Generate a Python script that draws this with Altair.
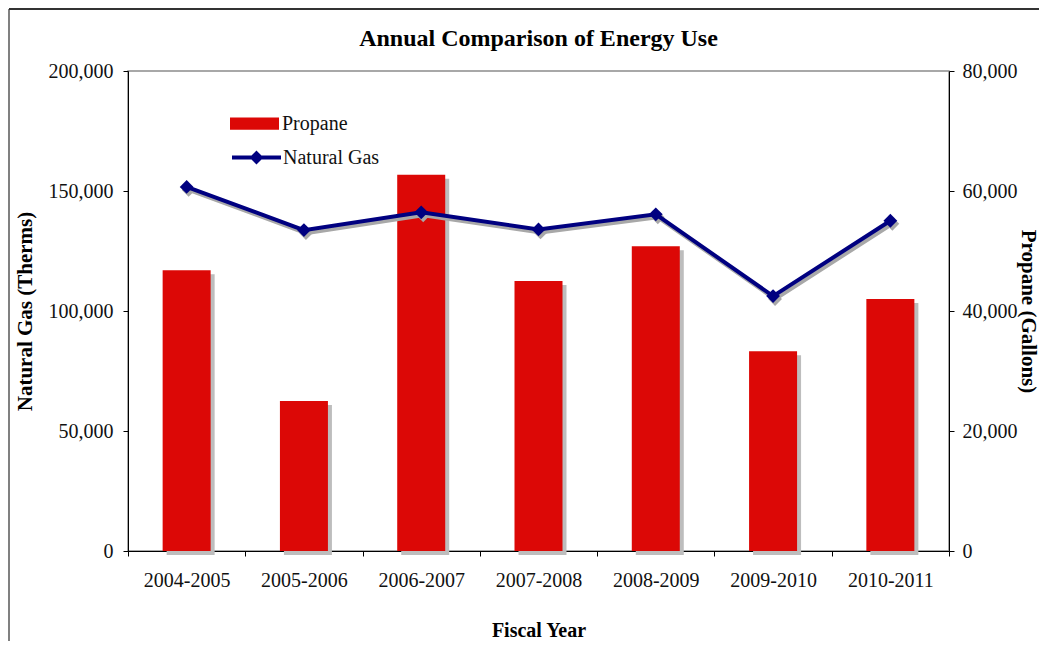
import altair as alt
import pandas as pd

years = ["2004-2005", "2005-2006", "2006-2007", "2007-2008", "2008-2009", "2009-2010", "2010-2011"]
propane_gallons = [46800, 25000, 62700, 45000, 50800, 33300, 42000]
natural_gas_therms = [151700, 133700, 141100, 134000, 140300, 106200, 137600]
gas_ticks = [0, 50000, 100000, 150000, 200000]
propane_ticks = [0, 20000, 40000, 60000, 80000]

RED = "#DC0806"
NAVY = "#000080"
SHADOW = "#BDBDBD"
FONT = "Liberation Serif"

df = pd.DataFrame({"year": years, "propane": propane_gallons, "gas": natural_gas_therms})

x_enc = alt.X(
    "year:N",
    sort=years,
    scale=alt.Scale(paddingInner=0, paddingOuter=0),
    axis=alt.Axis(
        title="Fiscal Year",
        labelAngle=0,
        tickBand="extent",
        tickSize=5,
        labelPadding=14,
        titlePadding=30,
        labelFontSize=20,
        titleFontSize=20,
        titleFontWeight="bold",
        domainColor="#000000",
        tickColor="#000000",
        labelColor="#111111",
        titleColor="#000000",
    ),
)

y_prop_scale = alt.Scale(domain=[0, 80000], nice=False, zero=True)
y_gas_scale = alt.Scale(domain=[0, 200000], nice=False, zero=True)

prop_axis = alt.Axis(
    orient="right",
    values=propane_ticks,
    format=",d",
    title="Propane (Gallons)",
    grid=False,
    tickSize=5,
    labelPadding=8,
    titlePadding=0,
    labelFontSize=20,
    titleFontSize=21,
    titleFontWeight="bold",
    domainColor="#000000",
    tickColor="#000000",
    labelColor="#111111",
    titleColor="#000000",
)
gas_axis = alt.Axis(
    orient="left",
    values=gas_ticks,
    format=",d",
    title="Natural Gas (Therms)",
    grid=False,
    tickSize=5,
    labelPadding=10,
    titlePadding=13,
    labelFontSize=20,
    titleFontSize=21,
    titleFontWeight="bold",
    domainColor="#000000",
    tickColor="#000000",
    labelColor="#111111",
    titleColor="#000000",
)

base = alt.Chart(df)

bar_shadow = base.mark_bar(size=48, color=SHADOW, xOffset=4, yOffset=4).encode(
    x=x_enc,
    y=alt.Y("propane:Q", scale=y_prop_scale, axis=prop_axis),
)
bars = base.transform_calculate(series="'Propane'").mark_bar(size=48).encode(
    x=x_enc,
    y=alt.Y("propane:Q", scale=y_prop_scale, axis=prop_axis),
    fill=alt.Fill(
        "series:N",
        scale=alt.Scale(domain=["Propane"], range=[RED]),
        legend=alt.Legend(
            title=None,
            orient="none",
            legendX=102,
            legendY=28,
            padding=0,
            symbolType="M-1,-0.25H1V0.25H-1Z",
            symbolSize=2401,
            symbolStrokeWidth=0,
            symbolOpacity=1,
            labelFontSize=20,
            labelOffset=3,
            labelColor="#111111",
        ),
    ),
)

frame_data = alt.Data(values=[{"f": 1}])
frame_left = alt.Chart(frame_data).mark_rule(color="#808080", strokeWidth=2).encode(
    x=alt.value(-119), y=alt.value(-62), y2=alt.value(571)
)
frame_top = alt.Chart(frame_data).mark_rule(color="#333333", strokeWidth=2).encode(
    x=alt.value(-119), x2=alt.value(911), y=alt.value(-62)
)

line_shadow = base.mark_line(color="#A8A8A8", strokeWidth=4, xOffset=2, yOffset=3).encode(
    x=x_enc,
    y=alt.Y("gas:Q", scale=y_gas_scale, axis=gas_axis),
)
point_shadow = base.mark_point(
    shape="diamond", filled=True, size=190, color="#A8A8A8", opacity=1, xOffset=2, yOffset=3
).encode(
    x=x_enc,
    y=alt.Y("gas:Q", scale=y_gas_scale, axis=gas_axis),
)
line = base.transform_calculate(series="'Natural Gas'").mark_line(strokeWidth=4).encode(
    x=x_enc,
    y=alt.Y("gas:Q", scale=y_gas_scale, axis=gas_axis),
    stroke=alt.Stroke(
        "series:N",
        scale=alt.Scale(domain=["Natural Gas"], range=[NAVY]),
        legend=alt.Legend(
            title=None,
            orient="none",
            legendX=102,
            legendY=60,
            padding=0,
            symbolType="M-1,0H1M0,-0.17L0.17,0L0,0.17L-0.17,0ZM0,-0.07L0.07,0L0,0.07L-0.07,0Z",
            symbolSize=2401,
            symbolStrokeWidth=4,
            symbolOpacity=1,
            labelFontSize=20,
            labelOffset=0,
            labelColor="#111111",
        ),
    ),
)
points = base.mark_point(shape="diamond", filled=True, size=190, color=NAVY, opacity=1).encode(
    x=x_enc,
    y=alt.Y("gas:Q", scale=y_gas_scale, axis=gas_axis),
)

prop_layer = alt.layer(frame_left, frame_top, bar_shadow, bars)
gas_layer = alt.layer(line_shadow, point_shadow, line, points)

chart = (
    alt.layer(prop_layer, gas_layer)
    .resolve_scale(y="independent", fill="independent", stroke="independent")
    .properties(
        width=821,
        height=480,
        autosize=alt.AutoSizeParams(type="none"),
        padding={"left": 120, "top": 63, "right": 91, "bottom": 90},
        title=alt.TitleParams(
            "Annual Comparison of  Energy Use",
            fontSize=24,
            fontWeight="bold",
            anchor="middle",
            frame="group",
            offset=0,
            dy=43,
            color="#000000",
        ),
    )
    .configure(font=FONT)
    .configure_view(stroke="#8C8C8C", strokeWidth=1.5)
)

chart.save("out.html", embed_options={"renderer": "svg", "actions": False})
